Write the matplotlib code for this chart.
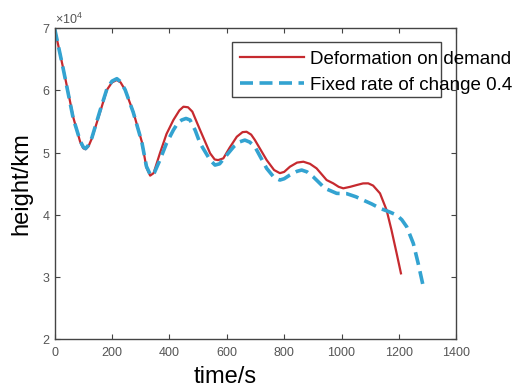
import matplotlib
matplotlib.use('Agg')
import matplotlib.pyplot as plt
from matplotlib.ticker import ScalarFormatter
from matplotlib.patches import Rectangle

plt.rcParams['font.family'] = ['Liberation Sans', 'DejaVu Sans']
plt.rcParams['mathtext.fontset'] = 'custom'
plt.rcParams['mathtext.rm'] = 'Liberation Sans'

# Deformation on demand (time in s, height in km)
t_demand = [0, 30, 66, 89, 100, 108, 118, 130, 159, 182, 200, 217, 230, 246, 274,
            304, 320, 333, 345, 367, 390, 414, 435, 449, 465, 480, 507, 542, 558,
            570, 588, 610, 635, 655, 669, 685, 698, 739, 765, 785, 800, 820, 845,
            867, 890, 913, 948, 971, 990, 1006, 1030, 1053, 1075, 1093, 1110, 1134,
            1157, 1174, 1192, 1207]
h_demand = [70000, 63560, 55520, 51750, 50700, 50550, 51000, 52300, 56580, 60070,
            61300, 61680, 61300, 60070, 56580, 51750, 47600, 46300, 46700, 49890,
            53000, 55250, 56800, 57390, 57300, 56600, 53640, 49890, 48900, 48800,
            49080, 50800, 52560, 53300, 53360, 52900, 52030, 48810, 47200, 46700,
            46900, 47730, 48400, 48540, 48200, 47470, 45590, 45060, 44500, 44260,
            44500, 44790, 45050, 45060, 44700, 43450, 40760, 37550, 33800, 30580]

# Fixed rate of change 0.4
t_fixed = [0, 30, 65, 89, 100, 108, 118, 130, 158, 182, 200, 217, 230, 246, 274,
           304, 320, 335, 348, 367, 390, 414, 430, 443, 458, 472, 490, 507, 542,
           559, 575, 600, 625, 646, 663, 680, 698, 739, 765, 785, 800, 820, 845,
           861, 880, 901, 942, 983, 1018, 1050, 1075, 1105, 1134, 1165, 1192, 1210,
           1227, 1250, 1267, 1285]
h_fixed = [70000, 63500, 55500, 51900, 50900, 50650, 51200, 52400, 56700, 60200,
           61500, 61900, 61400, 60100, 56500, 51700, 47800, 46300, 46800, 48810,
           51500, 53640, 54800, 55250, 55500, 55250, 53600, 51500, 48810, 48000,
           48200, 49610, 51000, 51750, 52020, 51700, 50950, 47470, 46000, 45590,
           45800, 46400, 47000, 47200, 46900, 46120, 44260, 43450, 43400, 42900,
           42370, 41750, 41040, 40500, 39960, 39200, 38080, 35410, 32190, 28420]

labels = ['Deformation on demand', 'Fixed rate of change 0.4']

fig = plt.figure(figsize=(5.3, 3.88), dpi=100)
ax = fig.add_axes([0.103, 0.126, 0.758, 0.801])

ax.plot(t_demand, h_demand, color='#c62a2f', lw=1.6, label=labels[0])
ax.plot(t_fixed, h_fixed, color='#33a3d1', lw=2.6, dashes=(3.6, 1.8), label=labels[1])

ax.set_xlim(0, 1400)
ax.set_ylim(20000, 70000)
ax.set_xticks(range(0, 1401, 200))
ax.set_yticks(range(20000, 70001, 10000))

fmt = ScalarFormatter(useMathText=True)
fmt.set_powerlimits((0, 0))
ax.yaxis.set_major_formatter(fmt)
ax.yaxis.get_offset_text().set_fontsize(9)
ax.yaxis.get_offset_text().set_color('#555555')

ax.tick_params(direction='in', length=3.5, width=0.8, top=True, right=True,
               labelsize=9, labelcolor='#555555', color='#444444', pad=3)
ax.tick_params(axis='x', pad=6)
for s in ax.spines.values():
    s.set_color('#444444')
    s.set_linewidth(1.0)

ax.set_xlabel('time/s', fontsize=17)
ax.xaxis.set_label_coords(0.424, -0.088)
ax.set_ylabel('height/km', fontsize=17, labelpad=7)

leg = ax.legend(loc='upper left', bbox_to_anchor=(0.438, 0.959), frameon=False,
                fontsize=13.5, handlelength=3.4, handletextpad=0.35,
                labelspacing=0.47, borderpad=0)
ax.add_patch(Rectangle((0.4415, 0.779), 0.52, 0.177, transform=ax.transAxes,
                       fill=False, edgecolor='#444444', lw=1.0, clip_on=False))

fig.savefig('out.png', dpi=100)
